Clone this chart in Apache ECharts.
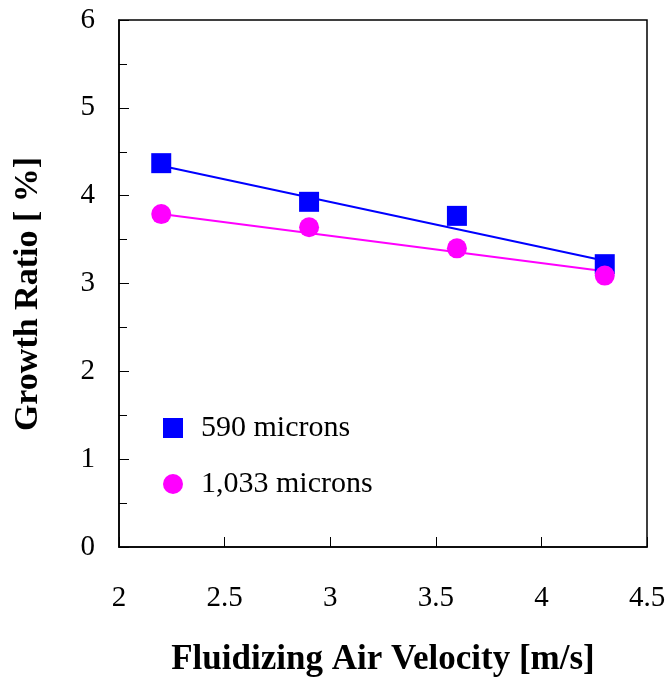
<!DOCTYPE html>
<html>
<head>
<meta charset="utf-8">
<script src="https://cdn.jsdelivr.net/npm/echarts@6/dist/echarts.min.js"></script>
<style>html,body{margin:0;padding:0;background:#fff;}#c{width:670px;height:682px;}</style>
</head>
<body>
<div id="c"></div>
<script>
const velocity = [2.2, 2.9, 3.6, 4.3];
const ratio590 = [4.37, 3.93, 3.77, 3.22];
const ratio1033 = [3.79, 3.64, 3.40, 3.09];
const trend590 = [[2.2, 4.34], [4.3, 3.26]];
const trend1033 = [[2.2, 3.79], [4.3, 3.14]];
const seriesNames = ['590 microns', '1,033 microns'];
const xTitle = 'Fluidizing Air Velocity [m/s]';
const yTitle = 'Growth Ratio [ %]';

const font = '"Liberation Serif", "Times New Roman", serif';
const chart = echarts.init(document.getElementById('c'), null, {renderer: 'canvas'});
const pts = (ys) => velocity.map((x, i) => [x, ys[i]]);

chart.setOption({
  animation: false,
  backgroundColor: '#fff',
  grid: {left: 119, right: 23, top: 20, bottom: 131, show: true, borderColor: '#000', borderWidth: 1.5, backgroundColor: 'transparent'},
  legend: {
    orient: 'vertical', left: 158, top: 408, itemWidth: 20, itemHeight: 20, itemGap: 26,
    data: [{name: seriesNames[0], icon: 'rect'}, {name: seriesNames[1], icon: 'circle'}],
    textStyle: {fontFamily: font, fontSize: 30, color: '#000', padding: [0, 0, 0, 13]}
  },
  graphic: [{
    type: 'text', x: 28, y: 294, rotation: Math.PI / 2,
    style: {text: yTitle, font: 'bold 34px ' + font, fill: '#000', align: 'center', verticalAlign: 'middle'}
  }],
  xAxis: {
    type: 'value', min: 2, max: 4.5, interval: 0.5,
    name: xTitle, nameLocation: 'middle', nameGap: 95,
    nameTextStyle: {fontFamily: font, fontSize: 35, fontWeight: 'bold', color: '#000'},
    axisLine: {show: true, onZero: false, lineStyle: {color: '#000', width: 1.5}},
    axisTick: {show: true, inside: true, length: 10, lineStyle: {color: '#000', width: 1}},
    axisLabel: {fontFamily: font, fontSize: 29, color: '#000', margin: 37, showMinLabel: true, showMaxLabel: true},
    splitLine: {show: false}
  },
  yAxis: {
    type: 'value', min: 0, max: 6, interval: 1,
    axisLine: {show: true, onZero: false, lineStyle: {color: '#000', width: 1.5}},
    axisTick: {show: true, inside: true, length: 10, lineStyle: {color: '#000', width: 1}},
    minorTick: {show: true, splitNumber: 2, length: 8, lineStyle: {color: '#000', width: 1}},
    axisLabel: {fontFamily: font, fontSize: 29, color: '#000', margin: 24, padding: [4, 0, 0, 0]},
    splitLine: {show: false}
  },
  series: [
    {type: 'line', data: trend590, symbol: 'none', silent: true, z: 2,
     lineStyle: {color: '#0000ff', width: 2}, legendHoverLink: false},
    {type: 'line', data: trend1033, symbol: 'none', silent: true, z: 2,
     lineStyle: {color: '#ff00ff', width: 2}, legendHoverLink: false},
    {name: seriesNames[0], type: 'scatter', data: pts(ratio590), symbol: 'rect', symbolSize: 20, z: 3,
     itemStyle: {color: '#0000ff', opacity: 1}},
    {name: seriesNames[1], type: 'scatter', data: pts(ratio1033), symbol: 'circle', symbolSize: 20, z: 4,
     itemStyle: {color: '#ff00ff', opacity: 1}}
  ]
});
</script>
</body>
</html>
